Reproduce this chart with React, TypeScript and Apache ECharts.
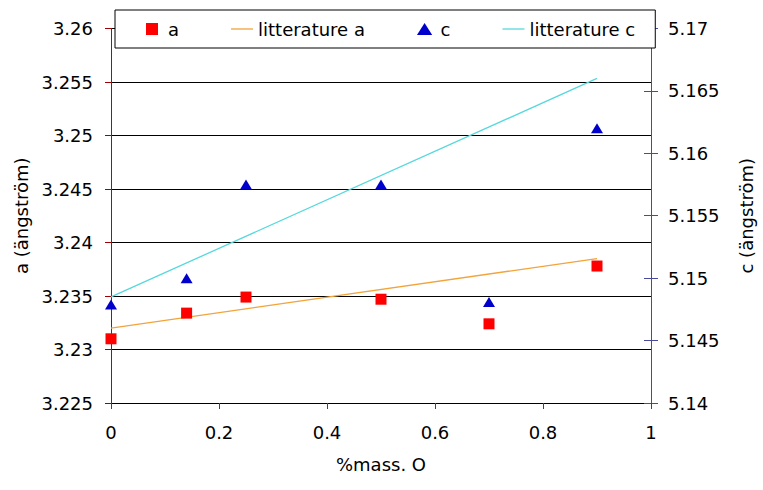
import React, { useEffect, useRef } from "react";
import * as echarts from "echarts";

const massO = [0, 0.14, 0.25, 0.5, 0.7, 0.9];
const aValues = [3.231, 3.2334, 3.2349, 3.2347, 3.2324, 3.2378];
const cValues = [5.1479, 5.15, 5.1575, 5.1575, 5.1481, 5.162];
const litX = [0, 0.9];
const litA = [3.232, 3.2385];
const litC = [5.1485, 5.166];
const seriesNames = ["a", "litterature a", "c", "litterature c"];

const FONT = "DejaVu Sans";

const fmt = (v: number) => String(parseFloat(Number(v).toFixed(3)));

export default function App() {
  const ref = useRef<HTMLDivElement>(null);
  useEffect(() => {
    if (!ref.current) return;
    const chart = echarts.init(ref.current, null, { renderer: "svg" });
    const pairs = (xs: number[], ys: number[]) => xs.map((x, i) => [x, ys[i]]);
    chart.setOption({
      animation: false,
      backgroundColor: "#ffffff",
      textStyle: { fontFamily: FONT },
      grid: { left: 111, right: 107, top: 28.5, bottom: 87, containLabel: false },
      legend: {
        data: [
          { name: seriesNames[0], icon: "path://M0,0H10V10H0Z" },
          { name: seriesNames[1], icon: "path://M0,0H22V1.3H0Z" },
          { name: seriesNames[2], icon: "path://M7,0L14,11L0,11Z" },
          { name: seriesNames[3], icon: "path://M0,0H22V1.3H0Z" },
        ],
        symbolKeepAspect: true,
        left: 115,
        top: 10,
        padding: [10, 20, 10, 31],
        itemWidth: 22,
        itemHeight: 12,
        itemGap: 52,
        backgroundColor: "#ffffff",
        borderColor: "#000000",
        borderWidth: 1,
        textStyle: { fontFamily: FONT, fontSize: 18, color: "#000" },
      },
      xAxis: {
        type: "value",
        min: 0,
        max: 1,
        interval: 0.2,
        name: "%mass. O",
        nameLocation: "middle",
        nameGap: 52,
        nameTextStyle: { fontFamily: FONT, fontSize: 18, color: "#000" },
        axisLine: { show: true, onZero: false, lineStyle: { color: "#000", width: 1 } },
        axisTick: { show: true, length: 6, lineStyle: { color: "#444" } },
        axisLabel: { margin: 20, fontFamily: FONT, fontSize: 18, color: "#000", formatter: fmt },
        splitLine: { show: false },
      },
      yAxis: [
        {
          type: "value",
          position: "left",
          min: 3.225,
          max: 3.26,
          interval: 0.005,
          name: "a (ängström)",
          nameLocation: "middle",
          nameGap: 76,
          nameRotate: 90,
          nameTextStyle: { fontFamily: FONT, fontSize: 18, color: "#000" },
          axisLine: { show: true, lineStyle: { color: "#c00000", width: 1 } },
          axisTick: { show: true, length: 6, lineStyle: { color: "#a00000" } },
          axisLabel: { margin: 18, fontFamily: FONT, fontSize: 18, color: "#000", formatter: fmt },
          splitLine: { show: true, lineStyle: { color: "#000", width: 1 } },
        },
        {
          type: "value",
          position: "right",
          min: 5.14,
          max: 5.17,
          interval: 0.005,
          name: "c (ängström)",
          nameLocation: "middle",
          nameGap: 86,
          nameRotate: 90,
          nameTextStyle: { fontFamily: FONT, fontSize: 18, color: "#000" },
          axisLine: { show: true, lineStyle: { color: "#4a4a9a", width: 1 } },
          axisTick: { show: true, length: 7, lineStyle: { color: "#4a4a9a" } },
          axisLabel: { margin: 17, fontFamily: FONT, fontSize: 18, color: "#000", formatter: fmt },
          splitLine: { show: false },
        },
        {
          type: "value",
          position: "right",
          min: 5.14,
          max: 5.17,
          interval: 0.005,
          axisLine: { show: false },
          axisTick: { show: true, inside: true, length: 7, lineStyle: { color: "#4a4a9a" } },
          axisLabel: { show: false },
          splitLine: { show: false },
        },
      ],
      series: [
        {
          name: seriesNames[0],
          type: "scatter",
          yAxisIndex: 0,
          symbol: "rect",
          symbolSize: 11,
          itemStyle: { color: "#ff0000", opacity: 1 },
          data: pairs(massO, aValues),
          z: 5,
        },
        {
          name: seriesNames[1],
          type: "line",
          yAxisIndex: 0,
          symbol: "none",
          lineStyle: { color: "#f2a33a", width: 1.3 },
          itemStyle: { color: "#f2a33a" },
          data: pairs(litX, litA),
          z: 3,
        },
        {
          name: seriesNames[2],
          type: "scatter",
          yAxisIndex: 1,
          symbol: "triangle",
          symbolSize: [12, 10],
          itemStyle: { color: "#0000cc", opacity: 1 },
          data: pairs(massO, cValues),
          z: 5,
        },
        {
          name: seriesNames[3],
          type: "line",
          yAxisIndex: 1,
          symbol: "none",
          lineStyle: { color: "#55d8dc", width: 1.3 },
          itemStyle: { color: "#55d8dc" },
          data: pairs(litX, litC),
          z: 3,
        },
      ],
    });
    return () => chart.dispose();
  }, []);
  return (
    <div
      ref={ref}
      style={{ position: "fixed", left: 0, top: 0, width: 763, height: 490, background: "#fff" }}
    />
  );
}
